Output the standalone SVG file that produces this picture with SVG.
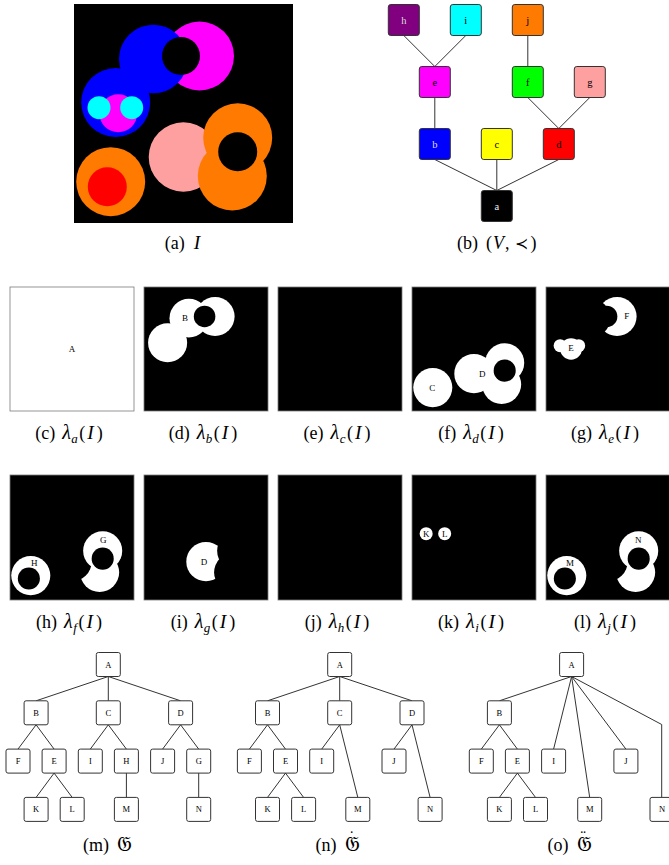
<svg xmlns="http://www.w3.org/2000/svg" xmlns:xlink="http://www.w3.org/1999/xlink" width="669" height="865" viewBox="0 0 669 865">
<style>
.cap{font-family:"Liberation Serif","DejaVu Serif",serif;font-size:18px;text-anchor:middle;fill:#000}
.it{font-style:italic}
.iI{font-style:italic;font-size:19.5px}
.lam{font-style:italic;font-size:20px}
.sub{font-size:13px;font-style:italic}
.frak{font-family:"DejaVu Serif","DejaVu Sans",serif;font-size:21px}
.acc{font-family:"Liberation Serif","DejaVu Serif",serif;font-size:16px}
.lbl{font-family:"Liberation Serif","DejaVu Serif",serif;font-size:9px;text-anchor:middle;fill:#000}
.frame{stroke:#7a7a7a;stroke-width:0.8}
.bn rect{stroke:#333;stroke-width:1}
.bn text{font-family:"Liberation Serif","DejaVu Serif",serif;font-size:10.5px;text-anchor:middle}
.tn rect{fill:#fff;stroke:#333;stroke-width:1}
.tn text{font-family:"Liberation Serif","DejaVu Serif",serif;font-size:8.5px;text-anchor:middle;fill:#000}
.edges line,.edges polyline{stroke:#333;stroke-width:1;fill:none}
.w{fill:#fff}
.k{fill:#000}
</style>
<defs>
<circle id="M1" cx="125.5" cy="52" r="34.5"/>
<circle id="B1" cx="79.3" cy="55" r="34.3"/>
<circle id="H1" cx="107" cy="52" r="19"/>
<circle id="B2" cx="41.7" cy="98.5" r="34.5"/>
<circle id="M2" cx="44.3" cy="109.3" r="19"/>
<circle id="C1" cx="25" cy="103.7" r="11.5"/>
<circle id="C2" cx="57.7" cy="103.7" r="11.5"/>
<circle id="O1" cx="36.7" cy="177.7" r="34.5"/>
<circle id="R" cx="33.3" cy="182.7" r="19.5"/>
<circle id="P" cx="109.4" cy="153" r="34.7"/>
<circle id="O2" cx="163.7" cy="133.8" r="34.5"/>
<circle id="O3" cx="158.3" cy="172" r="34.5"/>
<circle id="H2" cx="163.7" cy="147.7" r="19.5"/>
</defs>

<!-- (a) image I -->
<g id="imageI" transform="translate(74,4)">
<rect x="0" y="0" width="219" height="219" fill="#000"/>
<use href="#M1" fill="#ff00ff"/>
<use href="#B1" fill="#0000ff"/>
<use href="#B2" fill="#0000ff"/>
<use href="#M2" fill="#ff00ff"/>
<use href="#C1" fill="#00ffff"/>
<use href="#C2" fill="#00ffff"/>
<use href="#H1" fill="#000"/>
<use href="#O1" fill="#ff7a00"/>
<use href="#R" fill="#ff0000"/>
<use href="#P" fill="#ffa0a0"/>
<use href="#O3" fill="#ff7a00"/>
<use href="#O2" fill="#ff7a00"/>
<use href="#H2" fill="#000"/>
</g>
<text class="cap" x="182.5" y="249">(a)<tspan class="iI" dx="9">I</tspan></text>

<!-- (b) order graph -->
<g id="graphV">
<g class="edges" id="graphV-edges">
<line x1="403.8" y1="35.5" x2="434.8" y2="66.5"/>
<line x1="465.8" y1="35.5" x2="434.8" y2="66.5"/>
<line x1="527.8" y1="35.5" x2="527.8" y2="66.5"/>
<line x1="434.8" y1="97.5" x2="434.8" y2="128.5"/>
<line x1="527.8" y1="97.5" x2="558.8" y2="128.5"/>
<line x1="589.8" y1="97.5" x2="558.8" y2="128.5"/>
<line x1="434.8" y1="159.5" x2="496.8" y2="190.5"/>
<line x1="496.8" y1="159.5" x2="496.8" y2="190.5"/>
<line x1="558.8" y1="159.5" x2="496.8" y2="190.5"/>
</g>
<g class="bn" id="vh"><rect x="388.3" y="4.5" width="31" height="31" rx="2.5" fill="#800080"/><text x="403.8" y="23.5" fill="#ddd">h</text></g>
<g class="bn" id="vi"><rect x="450.3" y="4.5" width="31" height="31" rx="2.5" fill="#00ffff"/><text x="465.8" y="23.5" fill="#000">i</text></g>
<g class="bn" id="vj"><rect x="512.3" y="4.5" width="31" height="31" rx="2.5" fill="#ff7a00"/><text x="527.8" y="23.5" fill="#000">j</text></g>
<g class="bn" id="ve"><rect x="419.3" y="66.5" width="31" height="31" rx="2.5" fill="#ff00ff"/><text x="434.8" y="85.5" fill="#000">e</text></g>
<g class="bn" id="vf"><rect x="512.3" y="66.5" width="31" height="31" rx="2.5" fill="#00ff00"/><text x="527.8" y="85.5" fill="#000">f</text></g>
<g class="bn" id="vg"><rect x="574.3" y="66.5" width="31" height="31" rx="2.5" fill="#ffa0a0"/><text x="589.8" y="85.5" fill="#000">g</text></g>
<g class="bn" id="vb"><rect x="419.3" y="128.5" width="31" height="31" rx="2.5" fill="#0000ff"/><text x="434.8" y="147.5" fill="#ddd">b</text></g>
<g class="bn" id="vc"><rect x="481.3" y="128.5" width="31" height="31" rx="2.5" fill="#ffff00"/><text x="496.8" y="147.5" fill="#000">c</text></g>
<g class="bn" id="vd"><rect x="543.3" y="128.5" width="31" height="31" rx="2.5" fill="#ff0000"/><text x="558.8" y="147.5" fill="#000">d</text></g>
<g class="bn" id="va"><rect x="481.3" y="190.5" width="31" height="31" rx="2.5" fill="#000"/><text x="496.8" y="209.5" fill="#eee">a</text></g>
</g>
<text class="cap" x="496.7" y="249">(b)<tspan dx="8">(</tspan><tspan class="it" dx="1">V</tspan><tspan dx="1">,</tspan><tspan dx="6" font-family="DejaVu Serif" font-size="16">≺</tspan><tspan dx="2">)</tspan></text>

<!-- row 2 -->
<g id="lam-a">
<rect x="10" y="287" width="124" height="124" fill="#fff" class="frame"/>
<text class="lbl" x="72" y="352">A</text>
</g>
<text class="cap" x="69" y="439">(c)<tspan class="lam" dx="7">λ</tspan><tspan class="sub" dx="0.5" dy="3.5">a</tspan><tspan dx="1.5" dy="-3.5">(</tspan><tspan class="iI" dx="2">I</tspan><tspan dx="3">)</tspan></text>

<g id="lam-b">
<rect x="144" y="287" width="124" height="124" fill="#000" class="frame"/>
<g transform="translate(144,287) scale(0.5662)">
<use href="#M1" class="w"/><use href="#B1" class="w"/><use href="#B2" class="w"/><use href="#H1" class="k"/>
</g>
<text class="lbl" x="185" y="320.7">B</text>
</g>
<text class="cap" x="203" y="439">(d)<tspan class="lam" dx="7">λ</tspan><tspan class="sub" dx="0.5" dy="3.5">b</tspan><tspan dx="1.5" dy="-3.5">(</tspan><tspan class="iI" dx="2">I</tspan><tspan dx="3">)</tspan></text>

<g id="lam-c">
<rect x="278" y="287" width="124" height="124" fill="#000" class="frame"/>
</g>
<text class="cap" x="337" y="439">(e)<tspan class="lam" dx="7">λ</tspan><tspan class="sub" dx="0.5" dy="3.5">c</tspan><tspan dx="1.5" dy="-3.5">(</tspan><tspan class="iI" dx="2">I</tspan><tspan dx="3">)</tspan></text>

<g id="lam-d">
<rect x="412" y="287" width="124" height="124" fill="#000" class="frame"/>
<g transform="translate(412,287) scale(0.5662)">
<use href="#O1" class="w"/><use href="#P" class="w"/><use href="#O2" class="w"/><use href="#O3" class="w"/><use href="#H2" class="k"/>
</g>
<text class="lbl" x="432.3" y="391.3">C</text>
<text class="lbl" x="482.3" y="377.3">D</text>
</g>
<text class="cap" x="471" y="439">(f)<tspan class="lam" dx="7">λ</tspan><tspan class="sub" dx="0.5" dy="3.5">d</tspan><tspan dx="1.5" dy="-3.5">(</tspan><tspan class="iI" dx="2">I</tspan><tspan dx="3">)</tspan></text>

<g id="lam-e">
<rect x="546" y="287" width="124" height="124" fill="#000" class="frame"/>
<g transform="translate(546,287) scale(0.5662)">
<use href="#M1" class="w"/><use href="#B1" class="k"/><use href="#H1" class="k"/>
<use href="#M2" class="w"/><use href="#C1" class="w"/><use href="#C2" class="w"/>
</g>
<text class="lbl" x="571" y="351.3">E</text>
<text class="lbl" x="626.7" y="319">F</text>
</g>
<text class="cap" x="605" y="439">(g)<tspan class="lam" dx="7">λ</tspan><tspan class="sub" dx="0.5" dy="3.5">e</tspan><tspan dx="1.5" dy="-3.5">(</tspan><tspan class="iI" dx="2">I</tspan><tspan dx="3">)</tspan></text>

<!-- row 3 -->
<g id="lam-f">
<rect x="10" y="475" width="124" height="125" fill="#000" class="frame"/>
<g transform="translate(10,475) scale(0.5662)">
<use href="#O1" class="w"/><use href="#R" class="k"/><use href="#O3" class="w"/><use href="#P" class="k"/><use href="#O2" class="w"/><use href="#H2" class="k"/>
</g>
<text class="lbl" x="34.3" y="565.7">H</text>
<text class="lbl" x="103.3" y="543.3">G</text>
</g>
<text class="cap" x="69" y="628">(h)<tspan class="lam" dx="7">λ</tspan><tspan class="sub" dx="0.5" dy="3.5">f</tspan><tspan dx="1.5" dy="-3.5">(</tspan><tspan class="iI" dx="2">I</tspan><tspan dx="3">)</tspan></text>

<g id="lam-g">
<rect x="144" y="475" width="124" height="125" fill="#000" class="frame"/>
<g transform="translate(144,475) scale(0.5662)">
<use href="#P" class="w"/><use href="#O2" class="k"/><use href="#O3" class="k"/>
</g>
<text class="lbl" x="204" y="565.3">D</text>
</g>
<text class="cap" x="203" y="628">(i)<tspan class="lam" dx="7">λ</tspan><tspan class="sub" dx="0.5" dy="3.5">g</tspan><tspan dx="1.5" dy="-3.5">(</tspan><tspan class="iI" dx="2">I</tspan><tspan dx="3">)</tspan></text>

<g id="lam-h">
<rect x="278" y="475" width="124" height="125" fill="#000" class="frame"/>
</g>
<text class="cap" x="337" y="628">(j)<tspan class="lam" dx="7">λ</tspan><tspan class="sub" dx="0.5" dy="3.5">h</tspan><tspan dx="1.5" dy="-3.5">(</tspan><tspan class="iI" dx="2">I</tspan><tspan dx="3">)</tspan></text>

<g id="lam-i">
<rect x="412" y="475" width="124" height="125" fill="#000" class="frame"/>
<g transform="translate(412,475) scale(0.5662)">
<use href="#C1" class="w"/><use href="#C2" class="w"/>
</g>
<text class="lbl" x="426.2" y="537" font-size="8">K</text>
<text class="lbl" x="444.7" y="537" font-size="8">L</text>
</g>
<text class="cap" x="471" y="628">(k)<tspan class="lam" dx="7">λ</tspan><tspan class="sub" dx="0.5" dy="3.5">i</tspan><tspan dx="1.5" dy="-3.5">(</tspan><tspan class="iI" dx="2">I</tspan><tspan dx="3">)</tspan></text>

<g id="lam-j">
<rect x="546" y="475" width="124" height="125" fill="#000" class="frame"/>
<g transform="translate(546,475) scale(0.5662)">
<use href="#O1" class="w"/><use href="#R" class="k"/><use href="#O3" class="w"/><use href="#P" class="k"/><use href="#O2" class="w"/><use href="#H2" class="k"/>
</g>
<text class="lbl" x="570" y="566.3">M</text>
<text class="lbl" x="638.3" y="543">N</text>
</g>
<text class="cap" x="605" y="628">(l)<tspan class="lam" dx="7">λ</tspan><tspan class="sub" dx="0.5" dy="3.5">j</tspan><tspan dx="1.5" dy="-3.5">(</tspan><tspan class="iI" dx="2">I</tspan><tspan dx="3">)</tspan></text>

<!-- tree m -->
<g id="treeM">
<g class="edges" id="treeM-edges">
<line x1="108.3" y1="676.5" x2="36.1" y2="700.8"/>
<line x1="108.3" y1="676.5" x2="108.3" y2="700.8"/>
<line x1="108.3" y1="676.5" x2="180.6" y2="700.8"/>
<line x1="36.1" y1="724.8" x2="18" y2="749.1"/>
<line x1="36.1" y1="724.8" x2="54.1" y2="749.1"/>
<line x1="54.1" y1="773.1" x2="36.1" y2="797.4"/>
<line x1="54.1" y1="773.1" x2="72.2" y2="797.4"/>
<line x1="108.3" y1="724.8" x2="90.3" y2="749.1"/>
<line x1="108.3" y1="724.8" x2="126.4" y2="749.1"/>
<line x1="126.4" y1="773.1" x2="126.4" y2="797.4"/>
<line x1="180.6" y1="724.8" x2="162.6" y2="749.1"/>
<line x1="180.6" y1="724.8" x2="198.7" y2="749.1"/>
<line x1="198.7" y1="773.1" x2="198.7" y2="797.4"/>
</g>
<g class="tn" id="m-A"><rect x="96.3" y="652.5" width="24" height="24" rx="2"/><text x="108.3" y="667.5">A</text></g>
<g class="tn" id="m-B"><rect x="24.1" y="700.8" width="24" height="24" rx="2"/><text x="36.1" y="715.8">B</text></g>
<g class="tn" id="m-C"><rect x="96.3" y="700.8" width="24" height="24" rx="2"/><text x="108.3" y="715.8">C</text></g>
<g class="tn" id="m-D"><rect x="168.6" y="700.8" width="24" height="24" rx="2"/><text x="180.6" y="715.8">D</text></g>
<g class="tn" id="m-F"><rect x="6" y="749.1" width="24" height="24" rx="2"/><text x="18" y="764.1">F</text></g>
<g class="tn" id="m-E"><rect x="42.1" y="749.1" width="24" height="24" rx="2"/><text x="54.1" y="764.1">E</text></g>
<g class="tn" id="m-I"><rect x="78.3" y="749.1" width="24" height="24" rx="2"/><text x="90.3" y="764.1">I</text></g>
<g class="tn" id="m-H"><rect x="114.4" y="749.1" width="24" height="24" rx="2"/><text x="126.4" y="764.1">H</text></g>
<g class="tn" id="m-J"><rect x="150.6" y="749.1" width="24" height="24" rx="2"/><text x="162.6" y="764.1">J</text></g>
<g class="tn" id="m-G"><rect x="186.7" y="749.1" width="24" height="24" rx="2"/><text x="198.7" y="764.1">G</text></g>
<g class="tn" id="m-K"><rect x="24.1" y="797.4" width="24" height="24" rx="2"/><text x="36.1" y="812.4">K</text></g>
<g class="tn" id="m-L"><rect x="60.2" y="797.4" width="24" height="24" rx="2"/><text x="72.2" y="812.4">L</text></g>
<g class="tn" id="m-M"><rect x="114.4" y="797.4" width="24" height="24" rx="2"/><text x="126.4" y="812.4">M</text></g>
<g class="tn" id="m-N"><rect x="186.7" y="797.4" width="24" height="24" rx="2"/><text x="198.7" y="812.4">N</text></g>
</g>
<text class="cap" x="107.5" y="851">(m)<tspan class="frak" dx="8">𝔊</tspan></text>

<!-- tree n -->
<g id="treeN">
<g class="edges" id="treeN-edges">
<line x1="339.7" y1="676.5" x2="267.5" y2="700.8"/>
<line x1="339.7" y1="676.5" x2="339.7" y2="700.8"/>
<line x1="339.7" y1="676.5" x2="412" y2="700.8"/>
<line x1="267.5" y1="724.8" x2="249.4" y2="749.1"/>
<line x1="267.5" y1="724.8" x2="285.5" y2="749.1"/>
<line x1="285.5" y1="773.1" x2="267.5" y2="797.4"/>
<line x1="285.5" y1="773.1" x2="303.6" y2="797.4"/>
<line x1="339.7" y1="724.8" x2="321.7" y2="749.1"/>
<line x1="339.7" y1="724.8" x2="357.8" y2="797.4"/>
<line x1="412" y1="724.8" x2="394" y2="749.1"/>
<line x1="412" y1="724.8" x2="430.1" y2="797.4"/>
</g>
<g class="tn" id="n-A"><rect x="327.7" y="652.5" width="24" height="24" rx="2"/><text x="339.7" y="667.5">A</text></g>
<g class="tn" id="n-B"><rect x="255.5" y="700.8" width="24" height="24" rx="2"/><text x="267.5" y="715.8">B</text></g>
<g class="tn" id="n-C"><rect x="327.7" y="700.8" width="24" height="24" rx="2"/><text x="339.7" y="715.8">C</text></g>
<g class="tn" id="n-D"><rect x="400" y="700.8" width="24" height="24" rx="2"/><text x="412" y="715.8">D</text></g>
<g class="tn" id="n-F"><rect x="237.4" y="749.1" width="24" height="24" rx="2"/><text x="249.4" y="764.1">F</text></g>
<g class="tn" id="n-E"><rect x="273.5" y="749.1" width="24" height="24" rx="2"/><text x="285.5" y="764.1">E</text></g>
<g class="tn" id="n-I"><rect x="309.7" y="749.1" width="24" height="24" rx="2"/><text x="321.7" y="764.1">I</text></g>
<g class="tn" id="n-J"><rect x="382" y="749.1" width="24" height="24" rx="2"/><text x="394" y="764.1">J</text></g>
<g class="tn" id="n-K"><rect x="255.5" y="797.4" width="24" height="24" rx="2"/><text x="267.5" y="812.4">K</text></g>
<g class="tn" id="n-L"><rect x="291.6" y="797.4" width="24" height="24" rx="2"/><text x="303.6" y="812.4">L</text></g>
<g class="tn" id="n-M"><rect x="345.8" y="797.4" width="24" height="24" rx="2"/><text x="357.8" y="812.4">M</text></g>
<g class="tn" id="n-N"><rect x="418.1" y="797.4" width="24" height="24" rx="2"/><text x="430.1" y="812.4">N</text></g>
</g>
<text class="cap" x="337.5" y="851">(n)<tspan class="frak" dx="8">𝔊</tspan><tspan class="acc" dx="-10.5" dy="-9">˙</tspan></text>

<!-- tree o -->
<g id="treeO">
<g class="edges" id="treeO-edges">
<line x1="571.6" y1="676.5" x2="499.4" y2="700.8"/>
<line x1="571.6" y1="676.5" x2="553.6" y2="749.1"/>
<line x1="571.6" y1="676.5" x2="589.7" y2="797.4"/>
<line x1="571.6" y1="676.5" x2="625.9" y2="749.1"/>
<polyline points="571.6,676.5 661.7,724.5 661.7,797.4"/>
<line x1="499.4" y1="724.8" x2="481.3" y2="749.1"/>
<line x1="499.4" y1="724.8" x2="517.4" y2="749.1"/>
<line x1="517.4" y1="773.1" x2="499.4" y2="797.4"/>
<line x1="517.4" y1="773.1" x2="535.5" y2="797.4"/>
</g>
<g class="tn" id="o-A"><rect x="559.6" y="652.5" width="24" height="24" rx="2"/><text x="571.6" y="667.5">A</text></g>
<g class="tn" id="o-B"><rect x="487.4" y="700.8" width="24" height="24" rx="2"/><text x="499.4" y="715.8">B</text></g>
<g class="tn" id="o-F"><rect x="469.3" y="749.1" width="24" height="24" rx="2"/><text x="481.3" y="764.1">F</text></g>
<g class="tn" id="o-E"><rect x="505.4" y="749.1" width="24" height="24" rx="2"/><text x="517.4" y="764.1">E</text></g>
<g class="tn" id="o-I"><rect x="541.6" y="749.1" width="24" height="24" rx="2"/><text x="553.6" y="764.1">I</text></g>
<g class="tn" id="o-J"><rect x="613.9" y="749.1" width="24" height="24" rx="2"/><text x="625.9" y="764.1">J</text></g>
<g class="tn" id="o-K"><rect x="487.4" y="797.4" width="24" height="24" rx="2"/><text x="499.4" y="812.4">K</text></g>
<g class="tn" id="o-L"><rect x="523.5" y="797.4" width="24" height="24" rx="2"/><text x="535.5" y="812.4">L</text></g>
<g class="tn" id="o-M"><rect x="577.7" y="797.4" width="24" height="24" rx="2"/><text x="589.7" y="812.4">M</text></g>
<g class="tn" id="o-N"><rect x="650" y="797.4" width="24" height="24" rx="2"/><text x="662" y="812.4">N</text></g>
</g>
<text class="cap" x="569.5" y="851">(o)<tspan class="frak" dx="8">𝔊</tspan><tspan class="acc" dx="-11" dy="-9">¨</tspan></text>
</svg>
